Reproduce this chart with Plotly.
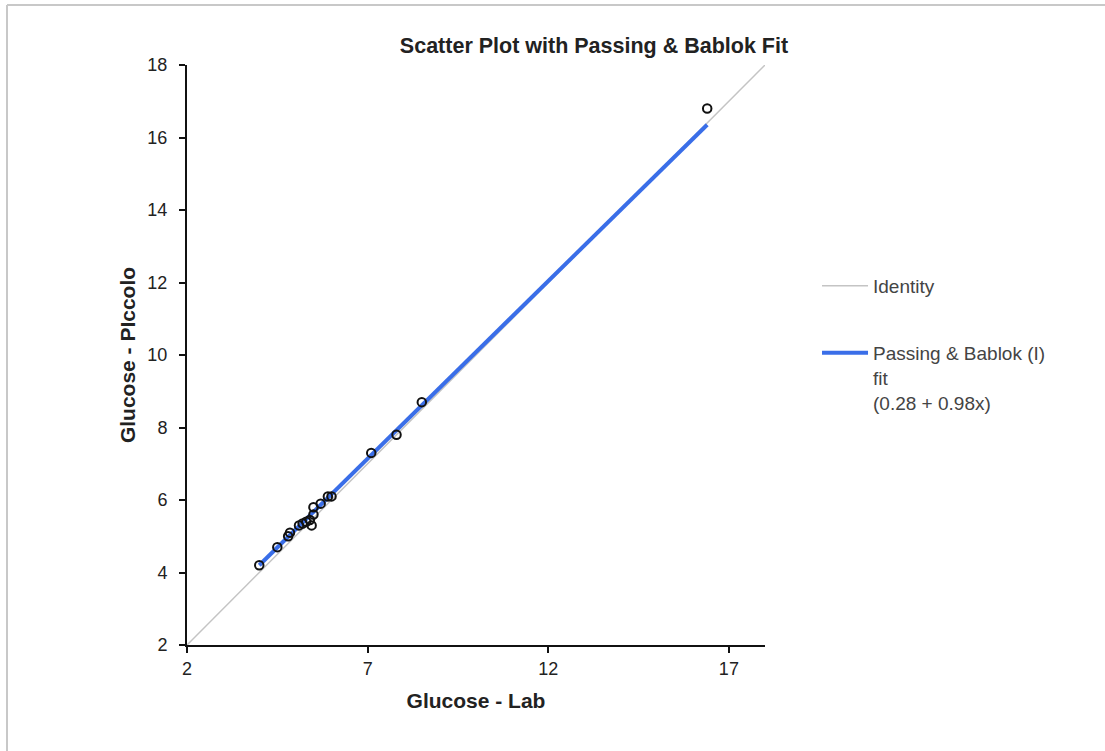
import plotly.graph_objects as go

# Data
lab = [4.0, 4.5, 4.8, 4.85, 5.1, 5.2, 5.3, 5.45, 5.4, 5.5, 5.5, 5.7, 5.9, 6.0, 7.1, 7.8, 8.5, 16.4]
piccolo = [4.2, 4.7, 5.0, 5.1, 5.3, 5.35, 5.4, 5.3, 5.45, 5.6, 5.8, 5.9, 6.1, 6.1, 7.3, 7.8, 8.7, 16.8]
identity_x = [2, 18]
intercept = 0.28
slope = 0.98
x_ticks = [2, 7, 12, 17]
y_ticks = [2, 4, 6, 8, 10, 12, 14, 16, 18]

fit_x = [min(lab), max(lab)]
fit_y = [intercept + slope * v for v in fit_x]

font = "Liberation Sans, Arial, sans-serif"

fig = go.Figure()
fig.add_trace(go.Scatter(
    x=identity_x, y=identity_x, mode="lines", name="Identity",
    line=dict(color="#c4c4c4", width=1.5), legend="legend"))
fig.add_trace(go.Scatter(
    x=fit_x, y=fit_y, mode="lines",
    name="Passing & Bablok (I)<br>fit<br>(0.28 + 0.98x)",
    line=dict(color="#3a6ee8", width=4), legend="legend2"))
fig.add_trace(go.Scatter(
    x=lab, y=piccolo, mode="markers", showlegend=False,
    marker=dict(symbol="circle-open", size=8.5, color="#111111",
                line=dict(width=2, color="#111111"))))

axis_common = dict(
    showgrid=False, zeroline=False, showline=True, linecolor="#111111",
    linewidth=2, ticks="outside", ticklen=6, tickwidth=2, tickcolor="#111111",
    tickfont=dict(family=font, size=18, color="#222222"),
)

legend_font = dict(family=font, size=19, color="#444444")

fig.update_layout(
    width=1105, height=751,
    margin=dict(l=187, r=340, t=65, b=106),
    paper_bgcolor="white", plot_bgcolor="white",
    title=dict(text="<b>Scatter Plot with Passing & Bablok Fit</b>",
               x=594 / 1105, xanchor="center", y=1 - 45 / 751, yanchor="middle",
               font=dict(family=font, size=21.5, color="#222222")),
    xaxis=dict(range=[2, 18], tickvals=x_ticks,
               title=dict(text="<b>Glucose - Lab</b>", standoff=16,
                          font=dict(family=font, size=21, color="#222222")),
               **axis_common),
    yaxis=dict(range=[2, 18], tickvals=y_ticks, ticklabelstandoff=8,
               title=dict(text="<b>Glucose - PIccolo</b>", standoff=6,
                          font=dict(family=font, size=21, color="#222222")),
               **axis_common),
    legend=dict(x=1.09, y=(645 - 267) / 580, xanchor="left", yanchor="top",
                bgcolor="rgba(0,0,0,0)", valign="top", itemwidth=46,
                font=legend_font),
    legend2=dict(x=1.09, y=(645 - 334) / 580, xanchor="left", yanchor="top",
                 bgcolor="rgba(0,0,0,0)", valign="top", itemwidth=46,
                 font=legend_font),
    shapes=[
        dict(type="line", xref="paper", yref="paper",
             x0=(7 - 187) / 578, x1=(7 - 187) / 578,
             y0=(645 - 751) / 580, y1=(645 - 5) / 580,
             line=dict(color="#c8c8c8", width=2)),
        dict(type="line", xref="paper", yref="paper",
             x0=(7 - 187) / 578, x1=(1105 - 187) / 578,
             y0=(645 - 5) / 580, y1=(645 - 5) / 580,
             line=dict(color="#c8c8c8", width=2)),
    ],
)

fig.write_html("out.html", config={"displayModeBar": False},
               post_script="document.body.style.margin='0';")
